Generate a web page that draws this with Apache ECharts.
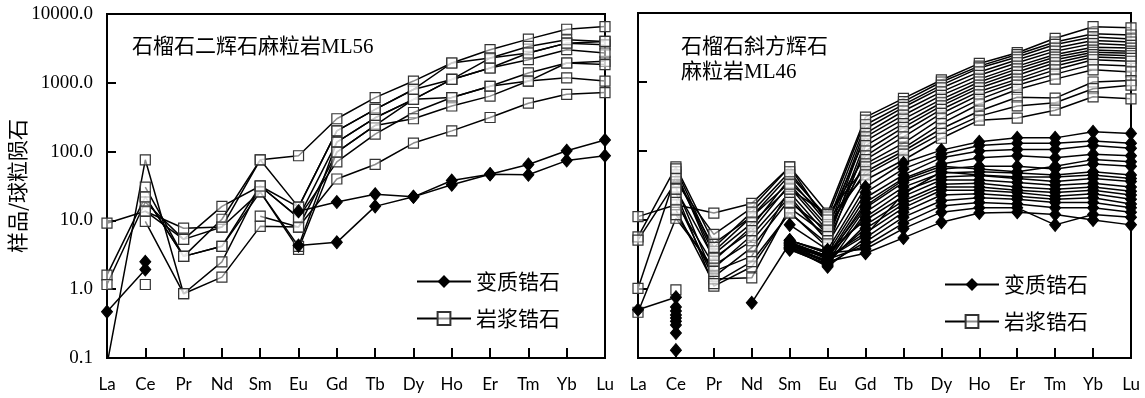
<!DOCTYPE html>
<html>
<head>
<meta charset="utf-8">
<script src="https://cdn.jsdelivr.net/npm/echarts@6/dist/echarts.min.js"></script>
<style>
html,body{margin:0;padding:0;background:#fff;}
#chart{width:1145px;height:398px;}
</style>
</head>
<body>
<div id="chart"></div>
<script>
// Categories (REE) and tick labels
const categories = ['La','Ce','Pr','Nd','Sm','Eu','Gd','Tb','Dy','Ho','Er','Tm','Yb','Lu'];
const yTickValues = [0.1, 1, 10, 100, 1000, 10000];
const legendNames = ['变质锆石', '岩浆锆石'];
const leftTitle = '石榴石二辉石麻粒岩ML56';
const rightTitle = '石榴石斜方辉石\n麻粒岩ML46';
const yName = '样品/球粒陨石';

// Left panel (ML56): magmatic zircon (open squares)
const leftMagmatic = [
  [0.08, 76, 0.86, 1.5, 8.2, 8, 40, 65, 133, 200, 313, 505, 680, 720],
  [9.1, 13.6, 7.7, 8, 76, 87, 300, 610, 1060, 1940, 3030, 4310, 6000, 6570],
  [1.6, 22, 3.0, 10.4, 76, 15.6, 200, 410, 800, 1120, 2290, 3380, 4220, 3990],
  [1.17, 18.5, 5.3, 16, 31.6, 11, 137, 310, 575, 1120, 1640, 2710, 3770, 3570],
  [null, 30.5, 3.0, 4.2, 26, 3.8, 98, 240, 575, 610, 890, 1390, 1940, 2050],
  [null, 9.7, 0.86, 2.5, 31.6, 11, 71, 180, 370, 610, 890, 1060, 1180, 1060],
  [null, 13.6, 5.3, 8, 26, 4.2, 137, 310, 575, 1120, 1640, 2170, 3030, 2710],
  [null, 1.17, null, null, 11.5, 8, 98, 240, 300, 460, 640, 1060, 1940, 1840],
  [null, 22, 3.0, 4.2, 31.6, 15.6, 200, 410, 800, 1940, 2290, 2710, 3770, 3990]
];
// Left panel (ML56): metamorphic zircon (filled diamonds)
const leftMetamorphic = [
  [0.47, 1.93, null, null, null, 13.6, 18.5, 24, 22, 38, 47, 46, 74, 87],
  [null, 2.5, null, null, null, 4.3, 4.8, 16, 22, 33, 47, 65, 103, 147]
];

// Right panel (ML46): magmatic zircon
const rightMagmatic = [
  [11.2, 16.6, 12.6, 17.4, 59, 12.6, 310, 580, 1070, 1860, 2660, 4300, 6330, 6100],
  [5.7, 59, 4.6, 11.2, 35, 11, 280, 520, 1000, 1700, 2500, 3800, 5000, 4800],
  [5.1, 36, 6.2, 15, 59, 9, 240, 470, 900, 1600, 2300, 3500, 4500, 4200],
  [1.02, 45, 3.2, 9, 30, 7, 210, 430, 820, 1400, 2100, 3100, 4000, 3800],
  [0.46, 10.6, 2.0, 6, 25, 6, 180, 380, 720, 1250, 1900, 2800, 3600, 3400],
  [null, 50, 2.6, 8, 40, 9, 160, 330, 640, 1100, 1700, 2500, 3200, 3100],
  [null, 30, 1.5, 4, 20, 5, 140, 290, 560, 1000, 1550, 2300, 2900, 2800],
  [null, 25, 1.1, 2.1, 13, 4, 120, 250, 500, 900, 1400, 2100, 2700, 2600],
  [null, 20, 1.4, 1.45, 15, 6, 100, 220, 450, 820, 1250, 1900, 2500, 2400],
  [null, 55, 3.5, 11.2, 45, 11, 85, 190, 400, 730, 1100, 1700, 2300, 2200],
  [null, 18, 2.2, 5, 22, 5, 75, 160, 350, 650, 1000, 1500, 2100, 2000],
  [null, 0.97, null, null, 18, 7, 65, 130, 300, 560, 900, 1300, 1800, 1700],
  [null, 12, 1.8, 3, 28, 12, 59, 110, 250, 480, 780, 1100, 1500, 1400],
  [null, 28, 2.8, 7, 33, 8, 50, 100, 210, 380, 600, 585, 1000, 1050],
  [null, 40, 4.0, 13, 50, 10, 45, 90, 180, 320, 450, 500, 800, 900],
  [null, 14, 1.2, 2.5, 12.6, 4.5, 38, 74, 153, 280, 300, 390, 610, 570]
];
// Right panel (ML46): metamorphic zircon
const rightMetamorphic = [
  [0.5, 0.76, null, null, 8.5, 3.7, 30, 67, 103, 136, 155, 155, 190, 180],
  [null, 0.55, null, null, 5.1, 3.3, 25, 55, 90, 120, 130, 130, 140, 130],
  [null, 0.48, null, 0.63, 4.6, 3.0, 21, 45, 80, 100, 105, 105, 120, 110],
  [null, 0.42, null, null, 4.3, 2.8, 18, 40, 65, 80, 85, 80, 90, 85],
  [null, 0.38, null, null, 4.0, 2.5, 15, 35, 55, 60, 60, 55, 65, 60],
  [null, 0.34, null, null, 3.8, 2.2, 13, 30, 48, 50, 48, 45, 50, 45],
  [null, 0.3, null, null, 4.8, 3.0, 11, 26, 42, 44, 40, 36, 40, 36],
  [null, 0.23, null, null, 5.0, 3.5, 10, 22, 38, 38, 35, 32, 34, 30],
  [null, 0.13, null, null, 4.0, 2.4, 8.5, 19, 33, 34, 30, 28, 30, 26],
  [null, null, null, null, 3.9, 2.6, 7.5, 17, 30, 30, 27, 25, 27, 23],
  [null, null, null, null, 4.4, 2.9, 6.5, 15, 27, 27, 25, 22, 24, 20],
  [null, null, null, null, 4.1, 2.1, 5.5, 13, 23, 24, 22, 20, 21, 17],
  [null, null, null, null, 3.7, 2.3, 4.8, 11, 19, 21, 20, 18, 18, 15],
  [null, null, null, null, 4.6, 2.7, 4.2, 9, 16, 18, 17, 15, 15, 13],
  [null, null, null, null, 5.1, 3.3, 3.8, 7.5, 13, 15, 15, 8.5, 12, 11],
  [null, null, null, null, 4.3, 2.5, 3.3, 5.5, 9.3, 12.6, 13, 12, 10, 8.5],
  [null, null, null, null, 3.9, 3.0, 16, 38, 60, 55, 50, 60, 75, 70],
  [null, null, null, null, 4.7, 2.8, 6, 24, 50, 45, 42, 42, 45, 40]
];

function makeSeries(data, panel, kind) {
  const met = kind === 'met';
  return {
    name: met ? legendNames[0] : legendNames[1],
    type: 'line',
    xAxisIndex: panel,
    yAxisIndex: panel,
    data: data,
    connectNulls: false,
    clip: true,
    showSymbol: true,
    showAllSymbol: true,
    symbol: met ? 'diamond' : 'rect',
    symbolSize: met ? [11, 13] : [10, 10],
    lineStyle: { color: '#000', width: 1.5 },
    itemStyle: met ? { color: '#000', borderColor: '#000' }
                   : { color: 'rgba(255,255,255,0.55)', borderColor: '#333', borderWidth: 1.2 },
    emphasis: { disabled: true },
    silent: true,
    animation: false,
    z: met ? 3 : 2
  };
}

const series = [];
leftMagmatic.forEach(d => series.push(makeSeries(d, 0, 'mag')));
leftMetamorphic.forEach(d => series.push(makeSeries(d, 0, 'met')));
rightMagmatic.forEach(d => series.push(makeSeries(d, 1, 'mag')));
rightMetamorphic.forEach(d => series.push(makeSeries(d, 1, 'met')));

function xAxisFor(idx) {
  return {
    type: 'category', gridIndex: idx, data: categories, boundaryGap: false,
    axisLine: { show: true, lineStyle: { color: '#000', width: 2 } },
    axisTick: { show: true, inside: true, length: 10, interval: 0, lineStyle: { color: '#000', width: 2 } },
    axisLabel: { interval: 0, color: '#000', fontFamily: 'Lato', fontSize: 17, margin: 18 },
    splitLine: { show: false }
  };
}
function yAxisFor(idx) {
  const ax = {
    type: 'log', logBase: 10, gridIndex: idx, min: yTickValues[0], max: yTickValues[yTickValues.length - 1],
    axisLine: { show: true, lineStyle: { color: '#000', width: 2 } },
    axisTick: { show: true, inside: true, length: 9, lineStyle: { color: '#000', width: 2 } },
    axisLabel: { show: idx === 0, color: '#000', fontFamily: 'Liberation Serif', fontSize: 19, margin: 14,
      formatter: v => Number(v).toFixed(1) },
    splitLine: { show: false },
    minorTick: { show: false }
  };
  if (idx === 0) {
    ax.name = yName;
    ax.nameLocation = 'middle';
    ax.nameRotate = 90;
    ax.nameGap = 76;
    ax.nameTextStyle = { color: '#000', fontFamily: 'Noto Sans CJK SC', fontSize: 21 };
  }
  return ax;
}

const titleFont = "'Liberation Serif', 'Noto Sans CJK SC', serif";
const option = {
  animation: false,
  backgroundColor: '#fff',
  title: [
    { text: leftTitle, left: 127, top: 32,
      textStyle: { fontFamily: titleFont, fontSize: 21, fontWeight: 'normal', color: '#000' } },
    { text: rightTitle, left: 676, top: 30,
      textStyle: { fontFamily: titleFont, fontSize: 21, fontWeight: 'normal', color: '#000', lineHeight: 25 } }
  ],
  legend: [
    { data: legendNames, orient: 'vertical', left: 411, top: 266, itemWidth: 54, itemHeight: 16, itemGap: 16,
      selectedMode: false, textStyle: { fontFamily: 'Noto Sans CJK SC', fontSize: 21, color: '#000' } },
    { data: legendNames, orient: 'vertical', left: 939, top: 269, itemWidth: 54, itemHeight: 16, itemGap: 16,
      selectedMode: false, textStyle: { fontFamily: 'Noto Sans CJK SC', fontSize: 21, color: '#000' } }
  ],
  grid: [
    { left: 107, top: 14, width: 498, height: 344, show: true, borderColor: '#000', borderWidth: 2, backgroundColor: 'transparent' },
    { left: 638, top: 13, width: 493, height: 345, show: true, borderColor: '#000', borderWidth: 2, backgroundColor: 'transparent' }
  ],
  xAxis: [xAxisFor(0), xAxisFor(1)],
  yAxis: [yAxisFor(0), yAxisFor(1)],
  series: series
};

const chart = echarts.init(document.getElementById('chart'), null, { renderer: 'canvas' });
chart.setOption(option);
</script>
</body>
</html>
